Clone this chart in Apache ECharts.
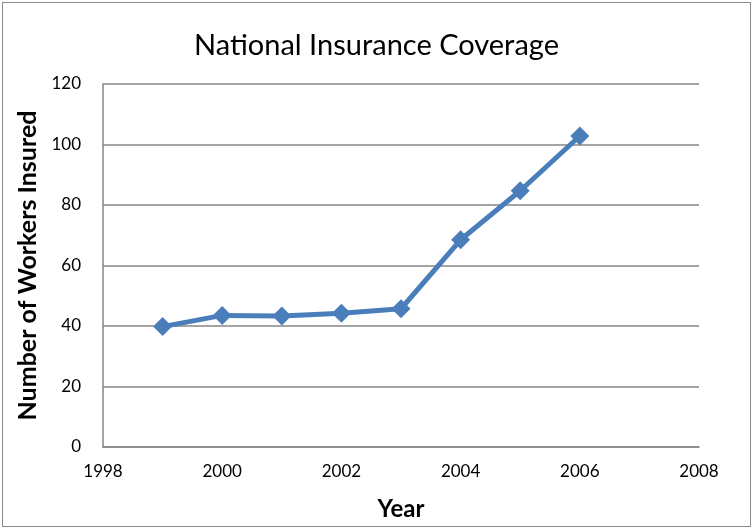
<!DOCTYPE html>
<html>
<head>
<meta charset="utf-8">
<script src="https://cdn.jsdelivr.net/npm/echarts@6/dist/echarts.min.js"></script>
<style>
  html, body { margin: 0; padding: 0; background: #fff; }
  #chart { position: absolute; left: 2px; top: 2px; width: 747px; height: 523px; border: 1.5px solid #8c8c8c; }
</style>
</head>
<body>
<div id="chart"></div>
<script>
const years = [1999, 2000, 2001, 2002, 2003, 2004, 2005, 2006];
const workersInsured = [39.8, 43.5, 43.3, 44.2, 45.7, 68.5, 84.7, 102.8];

const chart = echarts.init(document.getElementById('chart'));
const font = 'Lato, "Open Sans", sans-serif';

chart.setOption({
  animation: false,
  title: {
    text: 'National Insurance Coverage',
    left: 'center',
    top: 23,
    textStyle: { fontFamily: font, fontSize: 29, fontWeight: 'normal', color: '#000' }
  },
  grid: { left: 100, right: 51, top: 81, bottom: 76 },
  xAxis: {
    type: 'value',
    min: 1998,
    max: 2008,
    interval: 2,
    name: 'Year',
    nameLocation: 'middle',
    nameGap: 50,
    nameTextStyle: { fontFamily: font, fontSize: 24, fontWeight: 'bold', color: '#000' },
    axisLine: { show: true, lineStyle: { color: '#868686', width: 1.5 } },
    axisTick: { show: false },
    splitLine: { show: false },
    axisLabel: { fontFamily: font, fontSize: 17, color: '#000', margin: 16, formatter: v => String(v) }
  },
  yAxis: {
    type: 'value',
    min: 0,
    max: 120,
    interval: 20,
    name: 'Number of Workers Insured',
    nameLocation: 'middle',
    nameGap: 63,
    nameRotate: 90,
    nameTextStyle: { fontFamily: font, fontSize: 25, fontWeight: 'bold', color: '#000' },
    axisLine: { show: true, lineStyle: { color: '#868686', width: 1.5 } },
    axisTick: { show: false },
    splitLine: { lineStyle: { color: '#868686', width: 1.5 } },
    axisLabel: { fontFamily: font, fontSize: 17, color: '#000', margin: 22 }
  },
  series: [{
    type: 'line',
    data: years.map((y, i) => [y, workersInsured[i]]),
    symbol: 'diamond',
    symbolSize: 19,
    lineStyle: { color: '#4a7ebb', width: 5 },
    itemStyle: { color: '#4a7ebb' }
  }]
});
</script>
</body>
</html>
